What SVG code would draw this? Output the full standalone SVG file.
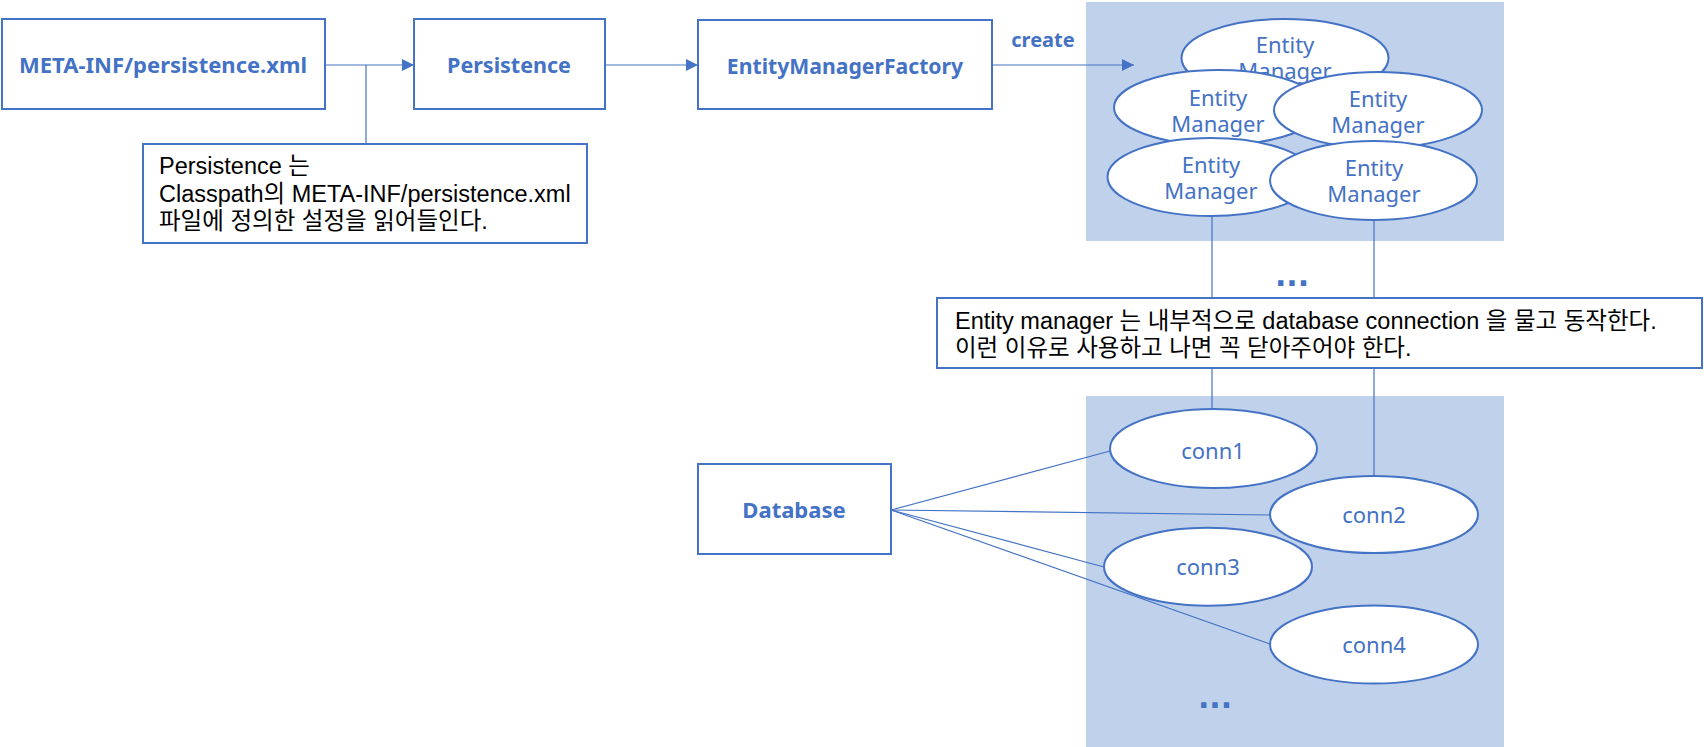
<svg xmlns="http://www.w3.org/2000/svg" width="1704" height="747" viewBox="0 0 1704 747">
<style>
.box{fill:#fff;stroke:#4472C4;stroke-width:2}
.ell{fill:#fff;stroke:#4472C4;stroke-width:2}
.cont{fill:#C0D1EB}
.ln{stroke:#4472C4;stroke-width:1.2;fill:none}
.hd{font-family:"Noto Sans","Open Sans",sans-serif;font-weight:bold;font-size:22px;fill:#4472C4;text-anchor:middle}
.et{font-family:"Noto Sans","Open Sans",sans-serif;font-size:22px;fill:#4472C4;text-anchor:middle}
.nt{font-family:"Liberation Sans","Noto Sans CJK KR",sans-serif;font-size:23.5px;fill:#000}
.dots{font-family:"DejaVu Sans",sans-serif;font-weight:bold;font-size:30px;fill:#4472C4;text-anchor:middle}
</style>
<defs>
<marker id="arr" markerWidth="12" markerHeight="12" refX="12" refY="6" orient="auto" markerUnits="userSpaceOnUse">
<path d="M0,0 L12,6 L0,12 Z" fill="#4472C4"/>
</marker>
</defs>
<g id="em-container"><rect class="cont" x="1086" y="2" width="418" height="239"/></g>
<g id="conn-container"><rect class="cont" x="1086" y="396" width="418" height="351"/></g>
<g id="connectors">
<line class="ln" x1="325" y1="65" x2="414" y2="65" marker-end="url(#arr)"/>
<line class="ln" x1="366" y1="65" x2="366" y2="144"/>
<line class="ln" x1="605" y1="65" x2="698" y2="65" marker-end="url(#arr)"/>
<line class="ln" x1="992" y1="65" x2="1134" y2="65" marker-end="url(#arr)"/>
<text class="hd" x="1043" y="47" style="font-size:20px">create</text>
<line class="ln" x1="1212" y1="214" x2="1212" y2="298"/>
<line class="ln" x1="1374" y1="218" x2="1374" y2="298"/>
<line class="ln" x1="1212" y1="368" x2="1212" y2="409"/>
<line class="ln" x1="1374" y1="368" x2="1374" y2="476"/>
<line class="ln" x1="891" y1="510" x2="1110" y2="451"/>
<line class="ln" x1="891" y1="510" x2="1270" y2="515"/>
<line class="ln" x1="891" y1="510" x2="1104" y2="567"/>
<line class="ln" x1="891" y1="510" x2="1270" y2="644"/>
</g>
<g id="meta-inf"><rect class="box" x="2" y="19" width="323" height="90"/><text class="hd" x="163" y="73">META-INF/persistence.xml</text></g>
<g id="persistence"><rect class="box" x="414" y="19" width="191" height="90"/><text class="hd" x="509" y="73" style="font-size:21.5px">Persistence</text></g>
<g id="emf"><rect class="box" x="698" y="20" width="294" height="89"/><text class="hd" x="845" y="74" style="font-size:21.2px">EntityManagerFactory</text></g>
<g id="note-persistence"><rect class="box" x="143" y="144" width="444" height="99"/>
<text class="nt" x="159" y="174">Persistence 는</text>
<text class="nt" x="159" y="202">Classpath의 META-INF/persistence.xml</text>
<text class="nt" x="159" y="229">파일에 정의한 설정을 읽어들인다.</text></g>
<g id="em1"><ellipse class="ell" cx="1285" cy="58" rx="103.5" ry="39"/><text class="et" x="1285" y="53">Entity</text><text class="et" x="1285" y="79">Manager</text></g>
<g id="em2"><ellipse class="ell" cx="1218" cy="107.5" rx="104" ry="37.5"/><text class="et" x="1218" y="106">Entity</text><text class="et" x="1218" y="132">Manager</text></g>
<g id="em3"><ellipse class="ell" cx="1378" cy="110" rx="104" ry="38"/><text class="et" x="1378" y="107">Entity</text><text class="et" x="1378" y="133">Manager</text></g>
<g id="em4"><ellipse class="ell" cx="1211" cy="177" rx="103.5" ry="39"/><text class="et" x="1211" y="173">Entity</text><text class="et" x="1211" y="199">Manager</text></g>
<g id="em5"><ellipse class="ell" cx="1373.5" cy="180.5" rx="103.5" ry="39.5"/><text class="et" x="1374" y="176">Entity</text><text class="et" x="1374" y="202">Manager</text></g>
<g id="dots-em"><text class="dots" x="1292" y="286">...</text></g>
<g id="note-em"><rect class="box" x="937" y="298" width="765" height="70"/>
<text class="nt" x="955" y="329">Entity manager 는 내부적으로 database connection 을 물고 동작한다.</text>
<text class="nt" x="955" y="356">이런 이유로 사용하고 나면 꼭 닫아주어야 한다.</text></g>
<g id="database"><rect class="box" x="698" y="464" width="193" height="90"/><text class="hd" x="794" y="518">Database</text></g>
<g id="conn1"><ellipse class="ell" cx="1213.5" cy="448.5" rx="103.5" ry="39.5"/><text class="et" x="1213" y="459">conn1</text></g>
<g id="conn2"><ellipse class="ell" cx="1374" cy="514.5" rx="104" ry="38.5"/><text class="et" x="1374" y="523">conn2</text></g>
<g id="conn3"><ellipse class="ell" cx="1208" cy="566.7" rx="104" ry="39"/><text class="et" x="1208" y="575">conn3</text></g>
<g id="conn4"><ellipse class="ell" cx="1374" cy="644.5" rx="104" ry="39"/><text class="et" x="1374" y="653">conn4</text></g>
<g id="dots-conn"><text class="dots" x="1215" y="708">...</text></g>
</svg>
